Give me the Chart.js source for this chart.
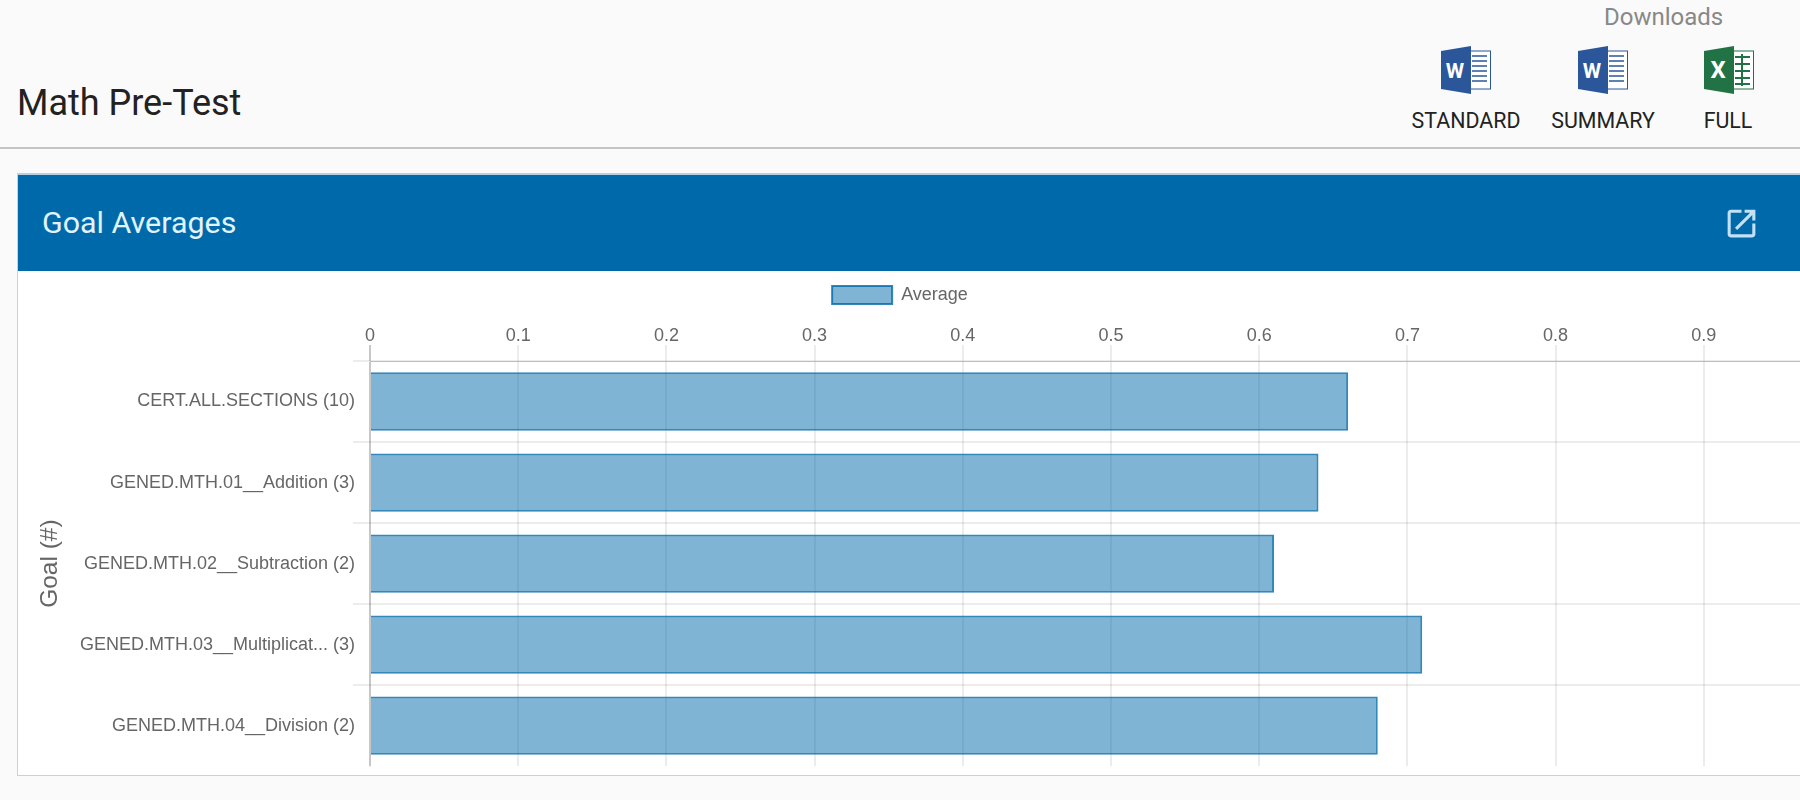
<!DOCTYPE html>
<html><head><meta charset="utf-8">
<script src="https://cdn.jsdelivr.net/npm/chart.js@4"></script>
<style>
html,body{margin:0;padding:0;width:1800px;height:800px;overflow:hidden;background:#fafafa;font-family:Roboto,sans-serif}
.abs{position:absolute;white-space:nowrap}
#rule{left:0;top:147px;width:1800px;height:2px;background:#c4c4c4}
#card{left:17px;top:173px;width:1900px;height:602px;background:#fff;border-left:1px solid #cfcfcf;border-bottom:1px solid #cfcfcf;box-sizing:content-box}
#band{left:18px;top:173px;width:1782px;height:98px;background:#0069aa;border-top:2px solid #b5d0e4;box-sizing:border-box}
#wrap{left:18px;top:271px;width:1860px;height:504px}
.btn{font-size:21.4px;color:#222;transform:translateX(-50%);top:108px}
</style></head><body>
<div class="abs" style="left:17px;top:81px;font-size:36px;line-height:44px;color:#222">Math Pre-Test</div>
<div class="abs" style="left:1604px;top:3px;font-size:24px;line-height:28px;color:#888">Downloads</div>

<svg class="abs" style="left:1441px;top:46px" width="50" height="48" viewBox="0 0 50 48">
<rect x="29" y="5" width="20.5" height="38" fill="#fff" stroke="#2b579a" stroke-width="1"/>
<path d="M31 10h15M31 15h15M31 20h15M31 25h15M31 30h15M31 35h15" stroke="#2b579a" stroke-width="1.6"/>
<polygon points="0,5 30,0 30,48 0,43" fill="#2b579a"/>
<text x="14" y="32" text-anchor="middle" font-family="Roboto" font-weight="700" font-size="21" fill="#fff">W</text></svg>
<svg class="abs" style="left:1578px;top:46px" width="50" height="48" viewBox="0 0 50 48">
<rect x="29" y="5" width="20.5" height="38" fill="#fff" stroke="#2b579a" stroke-width="1"/>
<path d="M31 10h15M31 15h15M31 20h15M31 25h15M31 30h15M31 35h15" stroke="#2b579a" stroke-width="1.6"/>
<polygon points="0,5 30,0 30,48 0,43" fill="#2b579a"/>
<text x="14" y="32" text-anchor="middle" font-family="Roboto" font-weight="700" font-size="21" fill="#fff">W</text></svg>
<svg class="abs" style="left:1704px;top:46px" width="50" height="48" viewBox="0 0 50 48">
<rect x="29" y="5" width="20.5" height="38" fill="#fff" stroke="#217346" stroke-width="1"/>
<path d="M31 11h15M31 18h15M31 25h15M31 32h15M31 38h15M38 8v32" stroke="#217346" stroke-width="2"/>
<polygon points="0,5 30,0 30,48 0,43" fill="#217346"/>
<text x="14" y="32" text-anchor="middle" font-family="Roboto" font-weight="700" font-size="24" fill="#fff">X</text></svg>

<div class="abs btn" style="left:1466px">STANDARD</div>
<div class="abs btn" style="left:1603px">SUMMARY</div>
<div class="abs btn" style="left:1728px">FULL</div>
<div class="abs" id="rule"></div>
<div class="abs" id="card"></div>
<div class="abs" id="band"></div>
<div class="abs" style="left:42px;top:205px;font-size:30.4px;line-height:36px;color:#e1f3fd">Goal Averages</div>
<svg class="abs" style="left:1723px;top:205px" width="37" height="37" viewBox="0 0 24 24"><path fill="#c3e2f7" d="M19 19H5V5h7V3H5c-1.11 0-2 .9-2 2v14c0 1.1.89 2 2 2h14c1.1 0 2-.9 2-2v-7h-2v7zM14 3v2h3.59l-9.83 9.83 1.41 1.41L19 6.41V10h2V3h-7z"/></svg>
<div class="abs" id="wrap"><canvas id="c"></canvas></div>
<script>
const categories = ["CERT.ALL.SECTIONS (10)","GENED.MTH.01__Addition (3)","GENED.MTH.02__Subtraction (2)","GENED.MTH.03__Multiplicat... (3)","GENED.MTH.04__Division (2)"];
const averages = [0.66,0.64,0.61,0.71,0.68];
const seriesName = "Average";
const axisTitle = "Goal (#)";
const LEGEND_CENTER = 882; // legend centre inside the canvas

const chartFont = {family:"'Liberation Sans',Arial,sans-serif",size:18};
Chart.defaults.color = "#666";
const moveLegend = {
  id:"moveLegend",
  afterLayout(chart){
    const l = chart.legend;
    l.right = l.left + 2*(LEGEND_CENTER - l.left);
  }
};
new Chart(document.getElementById("c"),{
  type:"bar",
  plugins:[moveLegend],
  data:{labels:categories,datasets:[{
    label:seriesName,data:averages,
    backgroundColor:"rgba(0,105,170,0.5)",
    borderColor:"rgba(0,105,170,0.8)",
    borderWidth:2
  }]},
  options:{
    indexAxis:"y",responsive:true,maintainAspectRatio:false,animation:false,
    layout:{padding:{top:5,left:18,right:26,bottom:8}},
    plugins:{
      tooltip:{enabled:false},
      legend:{position:"top",labels:{boxWidth:60,boxHeight:18,font:chartFont,color:"#666"}}
    },
    scales:{
      x:{
        position:"top",min:0,max:1,
        ticks:{stepSize:0.1,font:chartFont,color:"#666",padding:-2,maxRotation:0},
        grid:{tickLength:16,lineWidth:2,color:c=>c.index===0?"rgba(0,0,0,0.22)":"rgba(0,0,0,0.075)"},
        border:{display:true,width:1,color:"rgba(0,0,0,0.2)"},
        afterFit(s){s.height=47;}
      },
      y:{
        ticks:{font:chartFont,color:"#666",padding:-2,autoSkip:false},
        grid:{tickLength:17,lineWidth:2,color:c=>c.tick?"rgba(0,0,0,0.075)":"rgba(0,0,0,0)"},
        border:{display:false},
        title:{display:true,text:axisTitle,color:"#666",padding:0,font:{family:chartFont.family,size:24.5}},
        afterFit(s){s.width=334;}
      }
    }
  }
});
</script>
</body></html>
